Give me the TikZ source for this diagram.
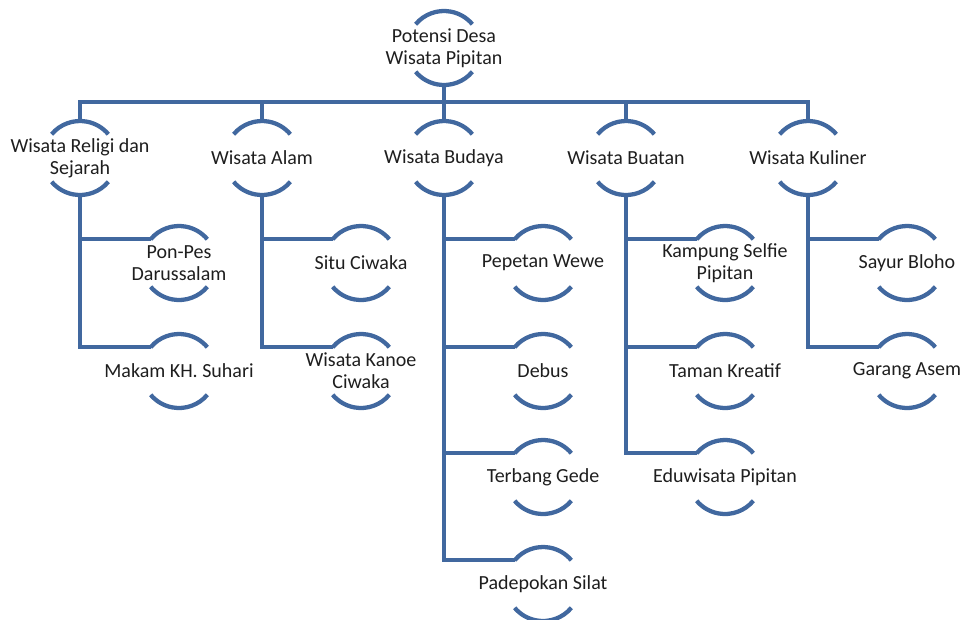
\documentclass[tikz,border=0pt]{standalone}
\usepackage{fontspec}
\setmainfont{Carlito}
\usetikzlibrary{positioning}
\definecolor{Biru}{HTML}{41689F}
\definecolor{Hitam}{HTML}{1E1E1E}
\tikzset{
  teks/.style={align=center,text=Hitam,font=\fontsize{15}{16.5}\selectfont},
  ring/.style={circle,minimum size=55.5pt,inner sep=0pt,outer sep=0pt,label={[teks]center:#1}},
  garis/.style={line width=3.2pt,Biru},
}
\begin{document}
\begin{tikzpicture}[x=0.75pt,y=0.75pt]
\useasboundingbox (0,0) rectangle (960,-619);
\node[ring={Potensi Desa\\Wisata Pipitan}] (root) at (444,-48) {};
\node[ring={Wisata Religi dan\\Sejarah}] (religi) at (80,-158) {};
\node[ring={Wisata Alam}] (alam) at (262,-158) {};
\node[ring={Wisata Budaya}] (budaya) at (444,-158) {};
\node[ring={Wisata Buatan}] (buatan) at (626,-158) {};
\node[ring={Wisata Kuliner}] (kuliner) at (808,-158) {};
\node[ring={Pon-Pes\\Darussalam}] (ponpes) at (179,-263) {};
\node[ring={Makam KH. Suhari}] (makam) at (179,-371) {};
\node[ring={Situ Ciwaka}] (situ) at (361,-263) {};
\node[ring={Wisata Kanoe\\Ciwaka}] (kanoe) at (361,-371) {};
\node[ring={Pepetan Wewe}] (pepetan) at (543,-263) {};
\node[ring={Debus}] (debus) at (543,-371) {};
\node[ring={Terbang Gede}] (terbang) at (543,-477) {};
\node[ring={Padepokan Silat}] (silat) at (543,-584) {};
\node[ring={Kampung Selfie\\Pipitan}] (selfie) at (725,-263) {};
\node[ring={Taman Kreatif}] (taman) at (725,-371) {};
\node[ring={Eduwisata Pipitan}] (edu) at (725,-477) {};
\node[ring={Sayur Bloho}] (sayur) at (907,-263) {};
\node[ring={Garang Asem}] (garang) at (907,-371) {};
\coordinate (palang) at (444,-102);
\foreach \n in {root,religi,alam,budaya,buatan,kuliner,ponpes,makam,situ,kanoe,pepetan,debus,terbang,silat,selfie,taman,edu,sayur,garang}
  \draw[garis] (\n.140) arc[start angle=140,end angle=40,radius=37]
    (\n.-40) arc[start angle=-40,end angle=-140,radius=37];
\draw[garis] (root.south) -- (palang);
\draw[garis] (religi.north) |- (palang) -| (kuliner.north);
\foreach \n in {alam,budaya,buatan}
  \draw[garis] (\n.north) -- (\n.north |- palang);
\draw[garis] (religi.south) |- (makam.140);
\draw[garis] (religi.south |- ponpes.140) -- (ponpes.140);
\draw[garis] (alam.south) |- (kanoe.140);
\draw[garis] (alam.south |- situ.140) -- (situ.140);
\draw[garis] (budaya.south) |- (silat.140);
\draw[garis] (budaya.south |- pepetan.140) -- (pepetan.140);
\draw[garis] (budaya.south |- debus.140) -- (debus.140);
\draw[garis] (budaya.south |- terbang.140) -- (terbang.140);
\draw[garis] (buatan.south) |- (edu.140);
\draw[garis] (buatan.south |- selfie.140) -- (selfie.140);
\draw[garis] (buatan.south |- taman.140) -- (taman.140);
\draw[garis] (kuliner.south) |- (garang.140);
\draw[garis] (kuliner.south |- sayur.140) -- (sayur.140);
\end{tikzpicture}
\end{document}
